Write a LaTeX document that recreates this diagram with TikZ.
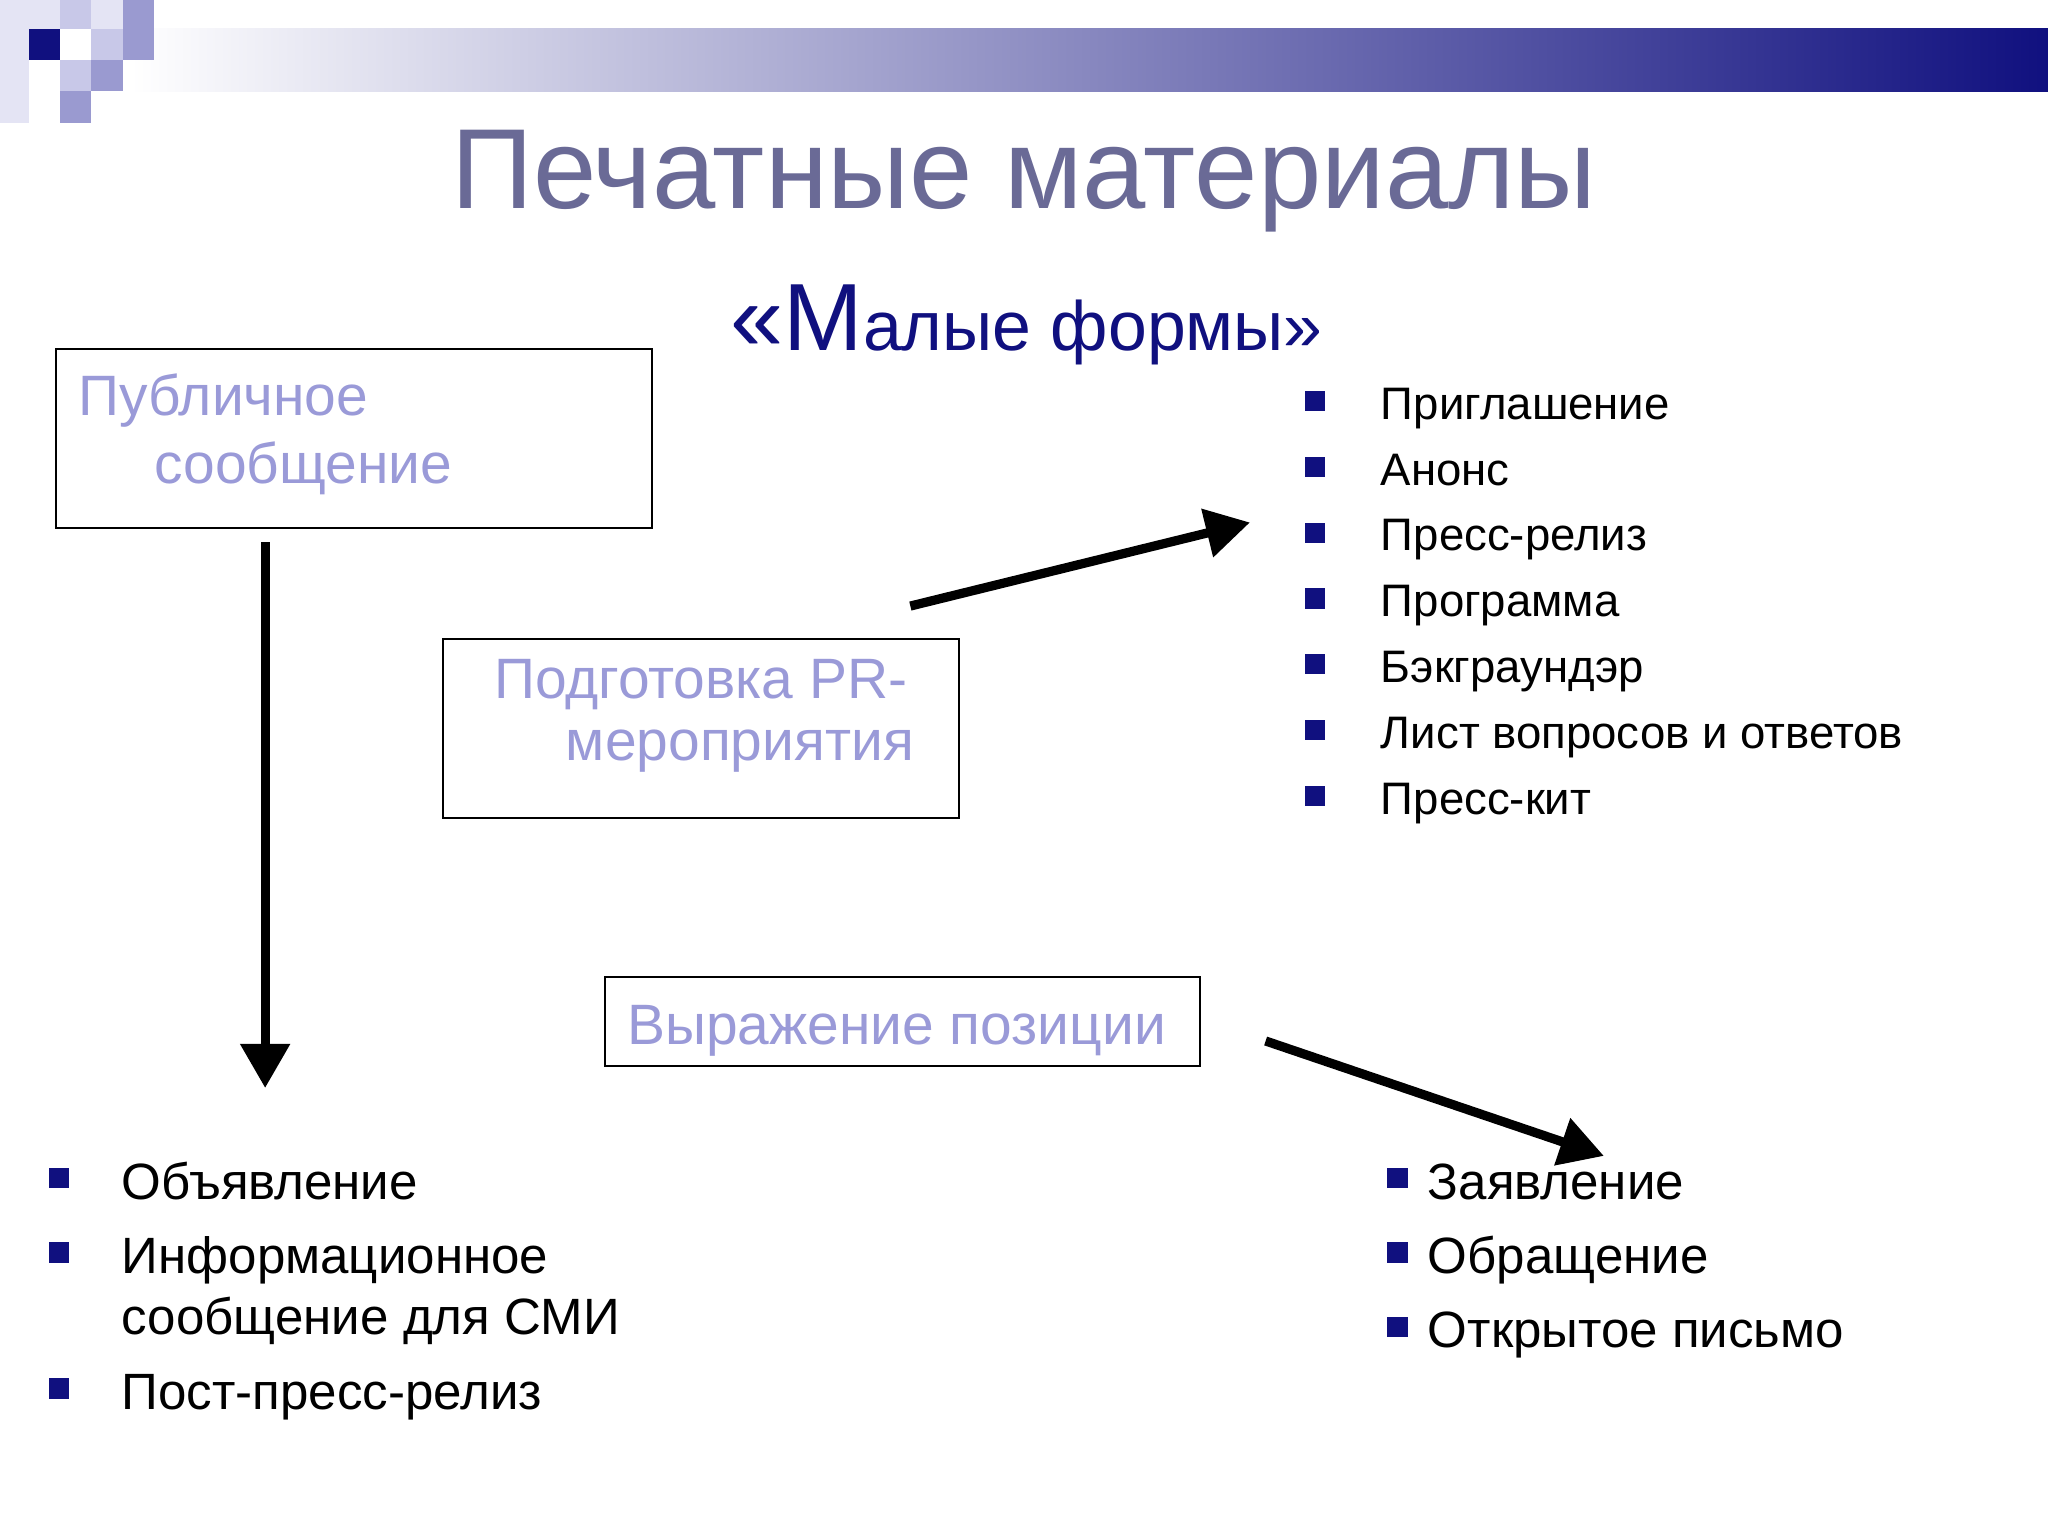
\documentclass[tikz,border=0pt]{standalone}
\usepackage{fontspec}
\setmainfont{Liberation Sans}
\usetikzlibrary{arrows.meta}
\definecolor{navy}{HTML}{10107F}
\definecolor{titlec}{HTML}{6A6A96}
\definecolor{boxt}{HTML}{9A9AD8}
\definecolor{lav}{HTML}{9A9AD0}
\definecolor{lav2}{HTML}{C8C8E8}
\definecolor{lav3}{HTML}{E4E4F4}
\tikzset{
  boxn/.style={draw=black,line width=1.2pt},
  boxtext/.style={text=boxt,font=\fontsize{31}{36}\selectfont,anchor=base west,inner sep=0},
  itm/.style={anchor=base west,inner sep=0,text=black},
  sitm/.style={itm,font=\fontsize{24.8}{29}\selectfont},
  bitm/.style={itm,font=\fontsize{27.8}{32}\selectfont},
  bul/.style={fill=navy,minimum size=11pt,inner sep=0},
  arr/.style={line width=5pt,-{Triangle[length=24pt,width=26pt]}}
}
\begin{document}
\begin{tikzpicture}[x=0.25mm,y=-0.25mm]
\useasboundingbox (0,0) rectangle (1568,1176);
\fill[white] (0,0) rectangle (1568,1176);
% top bar
\shade[left color=white,right color=navy] (100,22) rectangle (1568,70);
\fill[lav3] (0,0) rectangle (22,94);
\fill[lav3] (0,0) rectangle (94,22);
\fill[lav2] (46,0) rectangle (70,22);
\fill[lav] (94,0) rectangle (118,46);
\fill[lav2] (70,22) rectangle (94,46);
\fill[navy] (22,22) rectangle (46,46);
\fill[lav2] (46,46) rectangle (70,70);
\fill[lav] (70,46) rectangle (94,70);
\fill[lav] (46,70) rectangle (70,94);
% titles
\node[anchor=base,text=titlec,font=\fontsize{62}{70}\selectfont,inner sep=0] (title) at (784,160) {Печатные материалы};
\node[anchor=base,text=navy,inner sep=0] (sub) at (786,268) {{\fontsize{52}{60}\selectfont«М}{\fontsize{38}{46}\selectfont алые формы»}};
% boxes
\draw[boxn] (43,267) rectangle (499,404);
\node[boxtext] (b1a) at (60,318) {Публичное};
\node[boxtext] (b1b) at (118,370) {сообщение};
\draw[boxn] (339,489) rectangle (734,626);
\node[boxtext] (b2a) at (378,535) {Подготовка PR-};
\node[boxtext] (b2b) at (433,582) {мероприятия};
\draw[boxn] (463,748) rectangle (919,816);
\node[boxtext] (b3) at (480,800) {Выражение позиции};
% arrows
\coordinate (a1s) at (203,415); \coordinate (a1e) at (203,833);
\draw[arr] (a1s) -- (a1e);
\coordinate (a2s) at (697,464); \coordinate (a2e) at (957,400);
\draw[arr] (a2s) -- (a2e);
\coordinate (a3s) at (969,797); \coordinate (a3e) at (1228,885);
\draw[arr] (a3s) -- (a3e);
% right top list
\foreach \t [count=\i] in {Приглашение,Анонс,Пресс-релиз,Программа,Бэкграундэр,Лист вопросов и ответов,Пресс-кит}{
  \node[bul] (rb\i) at (1007,{307+50.4*(\i-1)}) {};
  \node[sitm] (rt\i) at (1057,{321+50.4*(\i-1)}) {\t};
}
% bottom left
\node[bul] (lb1) at (45,902) {}; \node[bitm] (lt1) at (93,918) {Объявление};
\node[bul] (lb2) at (45,959) {}; \node[bitm] (lt2) at (93,975) {Информационное};
\node[bitm] (lt2b) at (93,1022) {сообщение для СМИ};
\node[bul] (lb3) at (45,1063) {}; \node[bitm] (lt3) at (93,1079) {Пост-пресс-релиз};
% bottom right
\node[bul] (rr1) at (1070,902) {}; \node[bitm] (rs1) at (1093,918) {Заявление};
\node[bul] (rr2) at (1070,959) {}; \node[bitm] (rs2) at (1093,975) {Обращение};
\node[bul] (rr3) at (1070,1016) {}; \node[bitm] (rs3) at (1093,1032) {Открытое письмо};
\end{tikzpicture}
\end{document}
